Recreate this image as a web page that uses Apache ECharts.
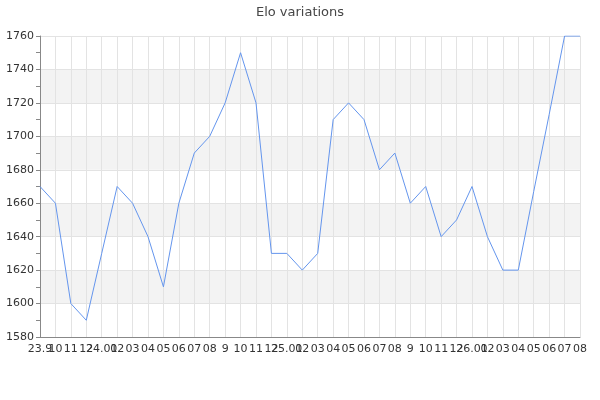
<!DOCTYPE html>
<html>
<head>
<meta charset="utf-8">
<script src="https://cdn.jsdelivr.net/npm/echarts@6/dist/echarts.min.js"></script>
<style>html,body{margin:0;padding:0;background:#fff}#c{width:600px;height:400px}</style>
</head>
<body>
<div id="c"></div>
<script>
const categories = ['23.9','10','11','12','24.01','02','03','04','05','06','07','08','9','10','11','12','25.01','02','03','04','05','06','07','08','9','10','11','12','26.01','02','03','04','05','06','07','08'];
const elo = [1670,1660,1600,1590,1630,1670,1660,1640,1610,1660,1690,1700,1720,1750,1720,1630,1630,1620,1630,1710,1720,1710,1680,1690,1660,1670,1640,1650,1670,1640,1620,1620,1667,1713,1760,1760];
const yMin = 1580, yMax = 1760, yStep = 20;

const chart = echarts.init(document.getElementById('c'));
chart.setOption({
  animation: false,
  title: {
    text: 'Elo variations', left: 'center', top: 1,
    textStyle: { fontSize: 13, fontWeight: 'normal', color: '#464646', fontFamily: 'DejaVu Sans' }
  },
  grid: { left: 40, right: 20, top: 36, bottom: 63, containLabel: false },
  xAxis: {
    type: 'category', data: categories, boundaryGap: false,
    axisLine: { lineStyle: { color: '#888' } },
    axisTick: { show: false },
    axisLabel: { interval: 0, color: '#333', fontSize: 11, fontFamily: 'DejaVu Sans', margin: 7 },
    splitLine: { show: true, lineStyle: { color: '#e3e3e3' } }
  },
  yAxis: {
    type: 'value', min: yMin, max: yMax, interval: yStep,
    axisLine: { show: true, lineStyle: { color: '#888' } },
    axisTick: { show: true, length: 4, lineStyle: { color: '#888' } },
    minorTick: { show: true, splitNumber: 2, length: 4, lineStyle: { color: '#888' } },
    axisLabel: { color: '#333', fontSize: 11, fontFamily: 'DejaVu Sans', margin: 6, formatter: v => String(v) },
    splitLine: { show: true, lineStyle: { color: '#e3e3e3' } },
    splitArea: { show: true, areaStyle: { color: ['rgba(255,255,255,0)', '#f3f3f3'] } }
  },
  series: [{
    type: 'line', data: elo, symbol: 'none',
    lineStyle: { color: '#6495ed', width: 1 }
  }]
});
</script>
</body>
</html>
